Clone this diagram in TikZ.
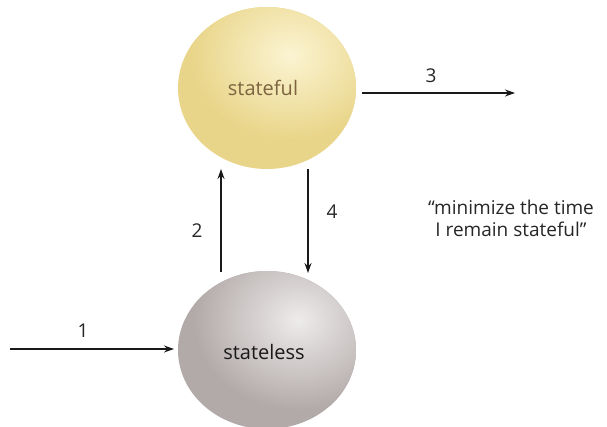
\documentclass[tikz,border=0pt]{standalone}
\usepackage{fontspec}
\setmainfont{Open Sans}
\usetikzlibrary{arrows.meta}
\definecolor{goldbase}{HTML}{E9D589}
\definecolor{goldlight}{HTML}{FBF4D2}
\definecolor{goldtext}{HTML}{7D6440}
\definecolor{greybase}{HTML}{B2AAA9}
\definecolor{greylight}{HTML}{EEEBEB}
\tikzset{
  flow/.style={-{Stealth[length=10pt,width=7pt]}, line width=1.4pt, draw=black!90},
  lbl/.style={font=\fontsize{19}{22}\selectfont, text=black!85},
}
\begin{document}
\begin{tikzpicture}[x=1pt,y=-1pt]
\useasboundingbox (0,0) rectangle (607,427);
% stateful ball
\fill[goldbase] (267,88) ellipse [x radius=89, y radius=81];
\begin{scope}
\clip (267,88) ellipse [x radius=89, y radius=81];
\shade[inner color=goldlight, outer color=goldbase] (290,55) ellipse [x radius=100, y radius=85];
\end{scope}
\node[font=\fontsize{20}{23}\selectfont, text=goldtext] (sf) at (263,88) {stateful};
% stateless ball
\fill[greybase] (267,350) ellipse [x radius=89, y radius=79];
\begin{scope}
\clip (267,350) ellipse [x radius=89, y radius=79];
\shade[inner color=greylight, outer color=greybase] (298,320) ellipse [x radius=105, y radius=90];
\end{scope}
\node[font=\fontsize{20}{23}\selectfont, text=black!90] (sl) at (264,352) {stateless};
% anchor points on the balls
\coordinate (sfbotL) at (221,169);
\coordinate (sfbotR) at (308,169);
\coordinate (sftopR) at (362,93);
\coordinate (sltopL) at (221,272);
\coordinate (sltopR) at (308,273);
\coordinate (slleft) at (174,349);
\coordinate (inL) at (10,349);
\coordinate (outR) at (515,93);
\draw[flow] (inL) -- (slleft);
\draw[flow] (sltopL) -- (sfbotL);
\draw[flow] (sfbotR) -- (sltopR);
\draw[flow] (sftopR) -- (outR);
\node[lbl] (l1) at (83,331) {1};
\node[lbl] (l2) at (197,231) {2};
\node[lbl] (l3) at (431,76) {3};
\node[lbl] (l4) at (332,212) {4};
\node[font=\fontsize{19}{22}\selectfont, align=center, text=black!85] (quote) at (511,218) {“minimize the time\\ I remain stateful”};
\end{tikzpicture}
\end{document}
